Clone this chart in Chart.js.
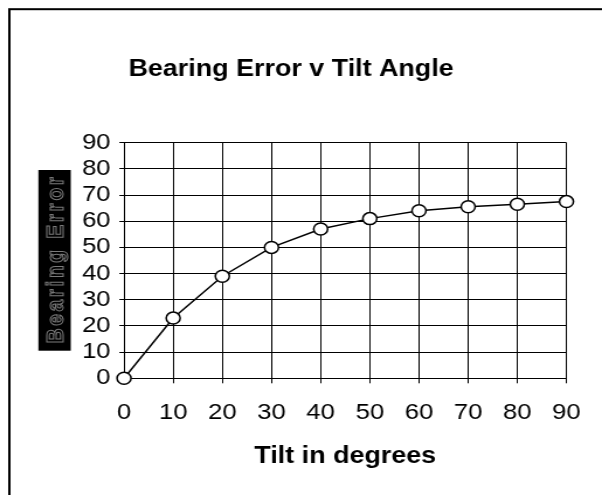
<!DOCTYPE html>
<html>
<head>
<meta charset="utf-8">
<script src="https://cdn.jsdelivr.net/npm/chart.js@4/dist/chart.umd.min.js"></script>
<style>
  body { margin: 0; background: #fff; }
  #chart { display: block; width: 602px !important; height: 495px !important; }
</style>
</head>
<body>
<!-- drawn narrower and stretched wide, like the original picture -->
<canvas id="chart" width="515" height="495" style="width:602px;height:495px"></canvas>
<script>
// data
const tiltDegrees = [0, 10, 20, 30, 40, 50, 60, 70, 80, 90];
const bearingError = [0, 23, 39, 50, 57, 61, 64, 65.5, 66.5, 67.5];
const chartTitle = 'Bearing Error v Tilt Angle';
const xTitle = 'Tilt in degrees';
const yTitle = 'Bearing Error';

const fontName = '"Liberation Sans", Arial, sans-serif';

// frame, main title and the boxed y title
const decorations = {
    id: 'decorations',
    afterDraw(chart) {
        const ctx = chart.ctx;
        ctx.save();
        ctx.strokeStyle = '#000';
        ctx.lineWidth = 2;
        ctx.strokeRect(8, 9.2, 640, 640);

        ctx.fillStyle = '#000';
        ctx.font = 'bold 23px ' + fontName;
        ctx.textAlign = 'center';
        ctx.textBaseline = 'alphabetic';
        ctx.fillText(chartTitle, 249, 76);

        // black box with outlined, rotated title
        ctx.fillRect(32.8, 170, 27.7, 180.7);
        ctx.translate(53.6, 260.3);
        ctx.rotate(-Math.PI / 2);
        ctx.font = 'bold 21px ' + fontName;
        ctx.letterSpacing = '2.6px';
        ctx.textAlign = 'center';
        ctx.textBaseline = 'alphabetic';
        ctx.strokeStyle = '#7a7a7a';
        ctx.lineWidth = 1;
        ctx.strokeText(yTitle, 1.3, 0);
        ctx.restore();
    }
};

new Chart(document.getElementById('chart'), {
    type: 'line',
    data: {
        datasets: [{
            data: tiltDegrees.map((t, i) => ({ x: t, y: bearingError[i] })),
            borderColor: '#000',
            borderWidth: 1.5,
            tension: 0,
            pointRadius: 6,
            pointBackgroundColor: '#fff',
            pointBorderColor: '#000',
            pointBorderWidth: 1.5,
            clip: false
        }]
    },
    options: {
        responsive: false,
        devicePixelRatio: 1,
        animation: false,
        layout: { padding: { top: 142.7, right: 30.4, bottom: 25, left: 0 } },
        plugins: {
            legend: { display: false },
            tooltip: { enabled: false },
            title: { display: false }
        },
        scales: {
            x: {
                type: 'linear',
                min: 0,
                max: 90,
                afterFit(scale) { scale.height = 91.7; },
                ticks: {
                    stepSize: 10,
                    autoSkip: false,
                    maxRotation: 0,
                    padding: 16.5,
                    color: '#000',
                    font: { family: fontName, size: 22 }
                },
                grid: { color: '#000', lineWidth: 1, tickLength: 5 },
                border: { color: '#000', width: 1 },
                title: {
                    display: true,
                    text: xTitle,
                    color: '#000',
                    padding: { top: 0, bottom: 0 },
                    font: { family: fontName, size: 23, weight: 'bold' }
                }
            },
            y: {
                min: 0,
                max: 90,
                afterFit(scale) { scale.width = 106.1; },
                ticks: {
                    stepSize: 10,
                    autoSkip: false,
                    padding: 7.5,
                    color: '#000',
                    font: { family: fontName, size: 22 }
                },
                grid: { color: '#000', lineWidth: 1, tickLength: 4 },
                border: { color: '#000', width: 1 }
            }
        }
    },
    plugins: [decorations]
});
</script>
</body>
</html>
